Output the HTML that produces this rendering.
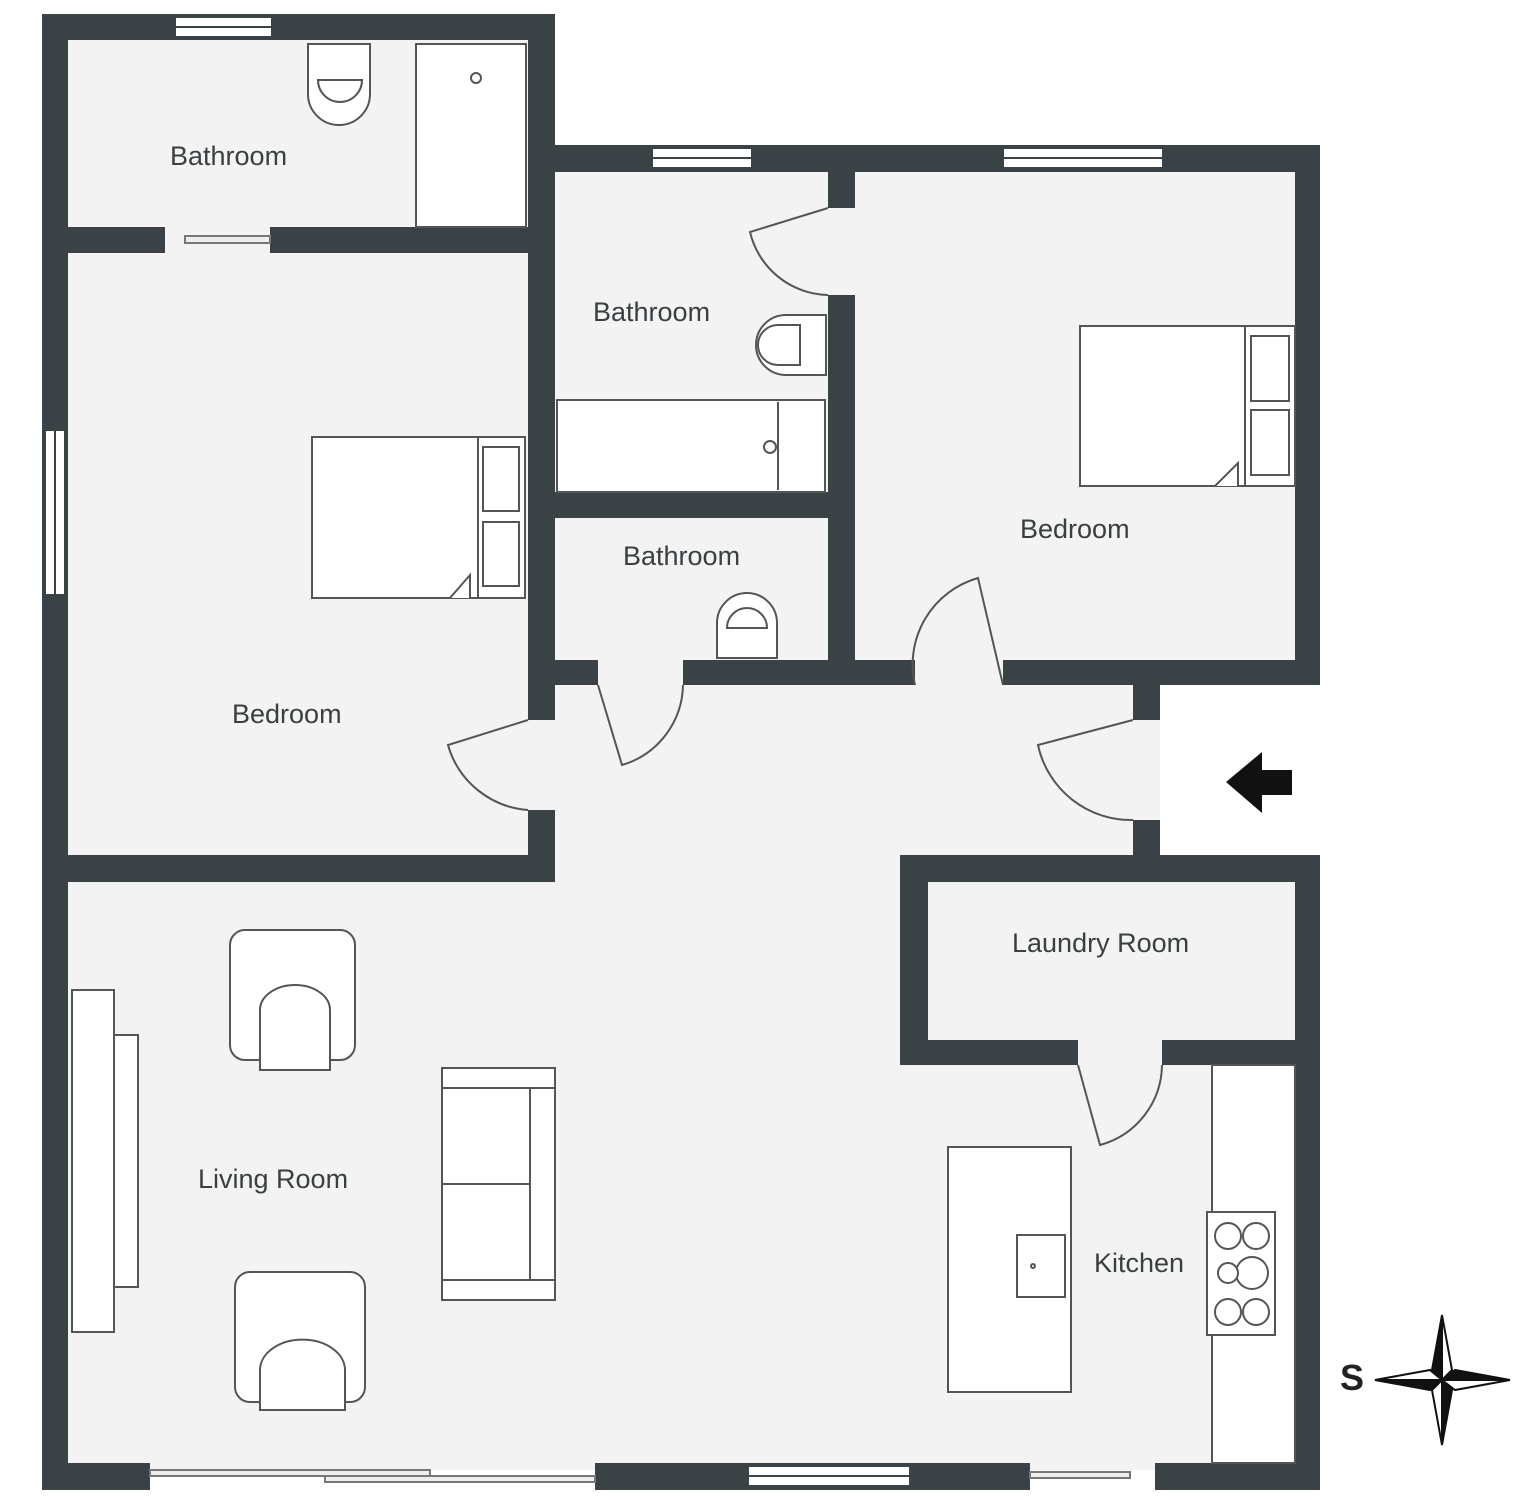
<!DOCTYPE html>
<html><head><meta charset="utf-8"><style>
html,body{margin:0;padding:0;background:#fff;}
svg{display:block}
text{font-family:"Liberation Sans",sans-serif;font-size:27px;fill:#3a3f42;}
</style></head><body>
<svg width="1538" height="1500" viewBox="0 0 1538 1500" xmlns="http://www.w3.org/2000/svg">
<g fill="#f3f3f3">
<rect x="68" y="40" width="462" height="820"/>
<rect x="555" y="172" width="745" height="500"/>
<rect x="68" y="870" width="1232" height="600"/>
<rect x="520" y="670" width="640" height="210"/>
</g>
<rect x="928" y="882" width="367" height="158" fill="#f3f3f3"/>
<g fill="#3a4245">
<rect x="42" y="14" width="513" height="26"/>
<rect x="42" y="14" width="26" height="1476"/>
<rect x="528" y="14" width="27" height="706"/>
<rect x="528" y="810" width="27" height="72"/>
<rect x="68" y="227" width="97" height="26"/>
<rect x="270" y="227" width="258" height="26"/>
<rect x="555" y="145" width="765" height="27"/>
<rect x="1295" y="145" width="25" height="540"/>
<rect x="828" y="172" width="27" height="36"/>
<rect x="828" y="295" width="27" height="390"/>
<rect x="555" y="492" width="273" height="26"/>
<rect x="555" y="660" width="43" height="25"/>
<rect x="683" y="660" width="232" height="25"/>
<rect x="1003" y="660" width="317" height="25"/>
<rect x="1133" y="685" width="27" height="35"/>
<rect x="1133" y="820" width="27" height="35"/>
<rect x="42" y="855" width="513" height="27"/>
<rect x="900" y="855" width="420" height="27"/>
<rect x="900" y="855" width="28" height="210"/>
<rect x="900" y="1040" width="178" height="25"/>
<rect x="1162" y="1040" width="158" height="25"/>
<rect x="1295" y="855" width="25" height="635"/>
<rect x="42" y="1463" width="108" height="27"/>
<rect x="595" y="1463" width="435" height="27"/>
<rect x="1155" y="1463" width="165" height="27"/>
</g>
<g fill="#fff" stroke="#3a4245" stroke-width="2">
<rect x="175" y="17" width="97" height="20"/><line x1="175" y1="27" x2="272" y2="27"/>
<rect x="652" y="148" width="100" height="20"/><line x1="652" y1="158" x2="752" y2="158"/>
<rect x="1003" y="148" width="160" height="20"/><line x1="1003" y1="158" x2="1163" y2="158"/>
<rect x="748" y="1466" width="162" height="20"/><line x1="748" y1="1476" x2="910" y2="1476"/>
<rect x="45" y="430" width="20" height="165"/><line x1="55" y1="430" x2="55" y2="595"/>
</g>
<g fill="#eee" stroke="#777" stroke-width="2">
<rect x="185" y="236" width="85" height="7"/>
<rect x="150" y="1470" width="280" height="6"/>
<rect x="325" y="1476" width="270" height="6"/>
<rect x="1030" y="1472" width="100" height="6"/>
</g>
<g fill="none" stroke="#555" stroke-width="2">
<path d="M828 208 L750 232 A82 82 0 0 0 828 295"/>
<path d="M528 720 L448 745 A90 90 0 0 0 528 810"/>
<path d="M598 685 L622 765 A85 85 0 0 0 683 685"/>
<path d="M1003 685 L978 578 A90 90 0 0 0 915 685"/>
<path d="M1133 720 L1038 745 A95 95 0 0 0 1133 820"/>
<path d="M1078 1065 L1100 1145 A84 84 0 0 0 1162 1065"/>
</g>
<g fill="#fff" stroke="#555" stroke-width="2">
<rect x="416" y="44" width="110" height="183"/>
<circle cx="476" cy="78" r="5"/>
<path d="M308 44 h62 v50 a31 31 0 0 1 -62 0 z"/>
<path d="M318 80 a22 22 0 0 0 44 0 z"/>
<path d="M826 315 v60 h-40 a30 30 0 0 1 0 -60 z"/>
<path d="M800 325 v40 h-22 a20 20 0 0 1 0 -40 z"/>
<rect x="557" y="400" width="268" height="92"/>
<line x1="778" y1="402" x2="778" y2="490"/>
<circle cx="770" cy="447" r="6"/>
<path d="M717 658 v-35 a30 30 0 0 1 60 0 v35 z"/>
<path d="M727 628 a20 20 0 0 1 40 0 z"/>
<rect x="312" y="437" width="213" height="161"/>
<rect x="478" y="437" width="47" height="161"/>
<rect x="483" y="447" width="36" height="64"/><rect x="483" y="522" width="36" height="64"/>
<path d="M450 598 L470 575 L470 598"/>
<rect x="1080" y="326" width="215" height="160"/>
<rect x="1245" y="326" width="50" height="160"/>
<rect x="1251" y="336" width="38" height="65"/><rect x="1251" y="410" width="38" height="65"/>
<path d="M1215 486 L1238 463 L1238 486"/>
<rect x="72" y="990" width="42" height="342"/>
<rect x="114" y="1035" width="24" height="252"/>
<rect x="442" y="1068" width="113" height="232"/>
<line x1="442" y1="1184" x2="530" y2="1184"/>
<line x1="530" y1="1088" x2="530" y2="1280"/>
<line x1="442" y1="1088" x2="555" y2="1088"/><line x1="442" y1="1280" x2="555" y2="1280"/>
<path d="M245 930 h95 a15 15 0 0 1 15 15 v100 a15 15 0 0 1 -15 15 h-95 a15 15 0 0 1 -15 -15 v-100 a15 15 0 0 1 15 -15 z"/>
<path d="M260 1070 h70 v-60 a35 25 0 0 0 -70 0 z"/>
<path d="M250 1272 h100 a15 15 0 0 1 15 15 v100 a15 15 0 0 1 -15 15 h-100 a15 15 0 0 1 -15 -15 v-100 a15 15 0 0 1 15 -15 z"/>
<path d="M260 1410 h85 v-40 a42 30 0 0 0 -85 0 z"/>
<rect x="1212" y="1065" width="83" height="398"/>
<rect x="948" y="1147" width="123" height="245"/>
<rect x="1017" y="1235" width="48" height="62"/><circle cx="1033" cy="1266" r="2"/>
<rect x="1207" y="1212" width="68" height="123"/>
<circle cx="1228" cy="1236" r="13"/><circle cx="1256" cy="1236" r="13"/>
<circle cx="1252" cy="1273" r="16"/><circle cx="1228" cy="1273" r="10"/>
<circle cx="1228" cy="1312" r="13"/><circle cx="1256" cy="1312" r="13"/>
</g>
<text x="170" y="165">Bathroom</text>
<text x="593" y="321">Bathroom</text>
<text x="623" y="565">Bathroom</text>
<text x="1020" y="538">Bedroom</text>
<text x="232" y="723">Bedroom</text>
<text x="1012" y="952">Laundry Room</text>
<text x="198" y="1188">Living Room</text>
<text x="1094" y="1272">Kitchen</text>
<path d="M1226 782 L1262 752 L1262 770 L1292 770 L1292 795 L1262 795 L1262 813 Z" fill="#111"/>
<text x="1340" y="1390" style="font-size:36px;font-weight:bold;fill:#222">S</text>
<g stroke="#111" stroke-width="2">
<path d="M1442 1315 L1432 1370 L1442 1380 Z" fill="#111"/>
<path d="M1442 1315 L1452 1370 L1442 1380 Z" fill="#fff"/>
<path d="M1442 1445 L1432 1390 L1442 1380 Z" fill="#fff"/>
<path d="M1442 1445 L1452 1390 L1442 1380 Z" fill="#111"/>
<path d="M1375 1380 L1430 1370 L1442 1380 Z" fill="#fff"/>
<path d="M1375 1380 L1430 1390 L1442 1380 Z" fill="#111"/>
<path d="M1510 1380 L1455 1370 L1442 1380 Z" fill="#111"/>
<path d="M1510 1380 L1455 1390 L1442 1380 Z" fill="#fff"/>
</g>
</svg>
</body></html>
